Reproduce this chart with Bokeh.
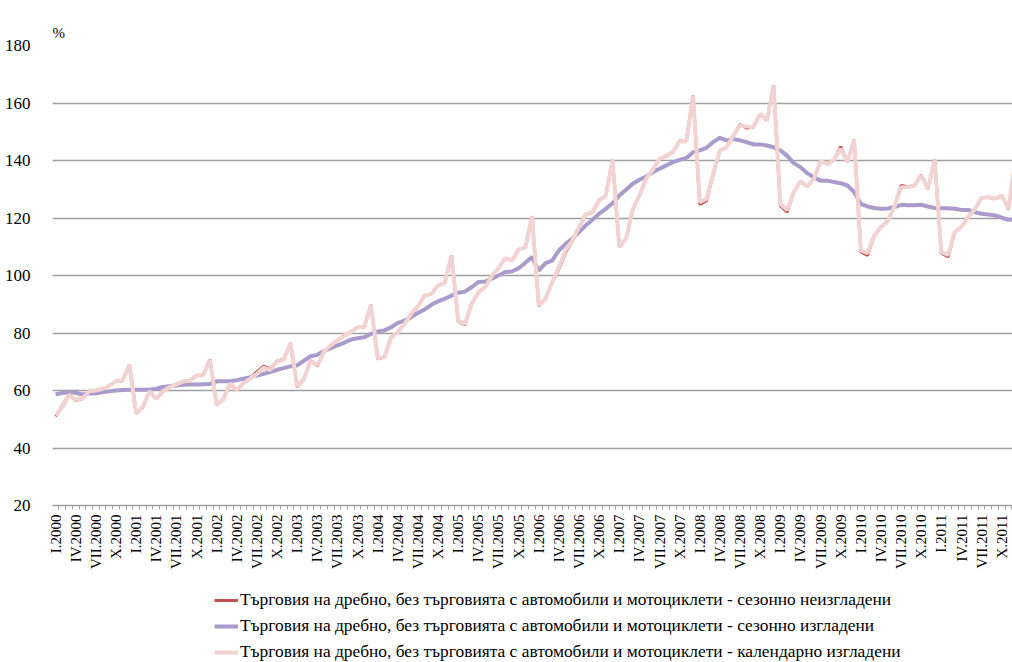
from bokeh.plotting import figure
from bokeh.layouts import column
from bokeh.models import Range1d, FixedTicker, Legend, LegendItem, ColumnDataSource
from bokeh.embed import file_html
from bokeh.resources import INLINE
import math

years = list(range(2000, 2012))
roman_quarters = ["I", "IV", "VII", "X"]

# Calendar adjusted (pink)
calendar_adj = [
    51.3, 54.2, 58.5, 56.8, 57.3, 59.7, 60.0, 60.6, 61.7, 63.2, 63.5, 69.0,
    52.1, 54.2, 59.7, 57.1, 59.7, 61.2, 62.1, 63.1, 63.5, 65.2, 65.4, 70.7,
    55.0, 57.0, 62.5, 60.2, 62.5, 64.1, 65.8, 67.9, 67.2, 70.1, 70.7, 76.5,
    61.4, 64.1, 70.4, 68.7, 73.6, 75.7, 77.4, 79.1, 80.3, 82.0, 82.0, 89.8,
    71.2, 71.6, 78.5, 80.3, 83.2, 86.7, 89.3, 93.0, 93.6, 96.5, 97.5, 107.0,
    84.3, 83.2, 90.2, 94.2, 95.9, 99.8, 102.6, 106.0, 105.2, 109.0, 109.8, 120.6,
    89.6, 91.9, 97.7, 102.9, 108.7, 112.2, 116.8, 121.2, 122.0, 126.1, 127.8, 140.2,
    110.1, 112.8, 122.8, 127.8, 133.6, 136.8, 140.6, 141.4, 142.9, 146.6, 146.7, 162.6,
    125.5, 126.7, 135.4, 143.5, 144.6, 148.7, 152.2, 151.8, 151.6, 156.2, 153.9, 166.1,
    124.9, 122.8, 129.0, 132.8, 131.0, 133.6, 139.8, 138.8, 140.2, 144.1, 139.4, 147.2,
    108.7, 107.8, 113.9, 116.8, 118.9, 124.0, 130.7, 130.7, 131.3, 134.8, 130.1, 140.2,
    108.1, 107.2, 115.1, 117.0, 120.3, 123.2, 127.0, 127.2, 126.7, 127.8, 123.2, 140.0,
]

# Not seasonally adjusted (red)
not_adj = [
    51.0, 54.6, 58.7, 56.6, 57.1, 59.7, 60.0, 60.6, 61.6, 63.3, 63.4, 69.1,
    52.0, 54.3, 59.7, 57.0, 59.7, 61.2, 62.1, 63.1, 63.5, 65.2, 65.4, 70.8,
    55.0, 57.0, 62.4, 60.2, 62.6, 64.3, 66.5, 68.5, 67.5, 70.3, 70.8, 76.5,
    61.2, 64.0, 70.4, 68.5, 73.6, 75.7, 77.4, 79.1, 80.3, 82.0, 82.1, 89.8,
    71.0, 71.6, 78.5, 80.3, 83.2, 86.7, 89.3, 93.0, 93.6, 96.5, 97.5, 107.0,
    84.0, 82.9, 90.2, 94.2, 95.9, 99.8, 102.6, 106.0, 105.2, 109.0, 109.8, 120.6,
    89.4, 91.9, 97.5, 102.3, 108.0, 112.0, 116.8, 121.2, 122.0, 126.1, 127.8, 140.2,
    110.0, 112.6, 122.8, 127.8, 133.6, 136.8, 140.6, 141.6, 142.9, 146.8, 146.7, 162.6,
    124.7, 126.0, 135.2, 143.5, 144.6, 148.7, 152.5, 151.3, 151.6, 156.2, 153.9, 166.1,
    124.3, 122.0, 129.0, 132.8, 131.0, 133.6, 139.8, 138.8, 140.2, 144.8, 139.4, 147.2,
    108.2, 107.0, 113.9, 116.8, 118.9, 124.0, 131.3, 130.9, 131.3, 135.0, 130.1, 140.2,
    107.8, 106.5, 115.1, 117.0, 120.3, 123.2, 127.0, 127.2, 126.7, 127.8, 123.0, 140.0,
]

# Seasonally adjusted (purple)
seasonal_adj = [
    58.7, 59.1, 59.4, 59.2, 58.6, 59.0, 59.0, 59.4, 59.7, 60.0, 60.2, 60.3,
    60.3, 60.3, 60.3, 60.6, 61.2, 61.5, 61.7, 62.0, 62.1, 62.1, 62.2, 62.3,
    63.2, 63.2, 63.2, 63.6, 64.1, 64.6, 65.2, 65.8, 66.4, 67.2, 67.8, 68.4,
    68.7, 70.4, 71.9, 72.4, 73.7, 74.7, 75.7, 76.6, 77.7, 78.2, 78.5, 79.7,
    80.5, 80.9, 82.0, 83.5, 84.3, 85.5, 87.0, 88.2, 89.8, 91.0, 91.9, 93.0,
    94.0, 94.4, 95.9, 97.7, 97.9, 98.9, 100.0, 101.2, 101.4, 102.5, 104.4, 106.4,
    101.7, 104.3, 105.2, 108.7, 111.0, 112.8, 115.1, 117.4, 119.4, 121.5, 123.2, 125.1,
    127.8, 129.8, 131.9, 133.3, 134.4, 135.9, 137.1, 138.3, 139.4, 140.2, 140.9, 142.9,
    143.5, 144.4, 146.4, 147.9, 147.0, 147.5, 147.0, 146.4, 145.6, 145.6, 145.2, 144.6,
    143.5, 141.7, 139.1, 137.7, 135.6, 134.2, 133.0, 133.0, 132.5, 132.1, 131.3, 129.0,
    124.9, 124.0, 123.5, 123.2, 123.3, 123.8, 124.6, 124.4, 124.4, 124.6, 124.0, 123.5,
    123.4, 123.4, 123.2, 122.8, 122.8, 122.0, 121.5, 121.2, 120.9, 120.1, 119.4, 119.6,
]

series_names = [
    "Търговия на дребно, без търговията с автомобили и мотоциклети - сезонно неизгладени",
    "Търговия на дребно, без търговията с автомобили и мотоциклети - сезонно изгладени",
    "Търговия на дребно, без търговията с автомобили и мотоциклети - календарно изгладени",
]
series_colors = ["#C0504D", "#A99BCB", "#F2D3D2"]
series_widths = [3, 4, 4]

n = len(calendar_adj)
idx = list(range(n))
tick_pos = list(range(0, n, 3))
tick_labels = {}
for t in tick_pos:
    y = years[t // 12]
    q = roman_quarters[(t % 12) // 3]
    tick_labels[t] = f"{q}.{y}"

FONT = "Liberation Serif"

p = figure(width=1012, height=588, output_backend="svg", toolbar_location=None,
           x_range=Range1d(-0.46, 142.6), y_range=Range1d(20, 180),
           min_border_left=52, min_border_right=0, min_border_top=45,
           min_border_bottom=83, title="%")
p.outline_line_color = None
p.background_fill_color = "white"
p.border_fill_color = "white"

p.title.text_font = FONT
p.title.text_font_size = "15px"
p.title.text_font_style = "normal"
p.title.align = "left"
p.title.offset = 0
p.title.standoff = 10
p.title.text_color = "black"

src = ColumnDataSource(dict(x=idx, nadj=not_adj, sadj=seasonal_adj, cadj=calendar_adj))

p.line("x", "nadj", source=src, line_color=series_colors[0], line_width=series_widths[0])
p.line("x", "sadj", source=src, line_color=series_colors[1], line_width=series_widths[1])
p.line("x", "cadj", source=src, line_color=series_colors[2], line_width=series_widths[2])

# y axis
p.yaxis.ticker = FixedTicker(ticks=[20, 40, 60, 80, 100, 120, 140, 160, 180])
p.yaxis.axis_line_color = None
p.yaxis.major_tick_line_color = None
p.yaxis.minor_tick_line_color = None
p.yaxis.major_label_text_font = FONT
p.yaxis.major_label_text_font_size = "17px"
p.yaxis.major_label_text_color = "black"
p.yaxis.major_label_standoff = 16

p.ygrid.grid_line_color = "#A0A0A0"
p.ygrid.grid_line_width = 1.3
p.xgrid.grid_line_color = None

# x axis
p.xaxis.ticker = FixedTicker(ticks=tick_pos, minor_ticks=[i - 0.5 for i in range(n + 1)])
p.xaxis.major_label_overrides = tick_labels
p.xaxis.major_label_orientation = math.pi / 2
p.xaxis.major_label_text_font = FONT
p.xaxis.major_label_text_font_size = "15px"
p.xaxis.major_label_text_color = "black"
p.xaxis.major_label_standoff = 5
p.xaxis.major_tick_line_color = None
p.xaxis.major_tick_out = 4
p.xaxis.minor_tick_line_color = "#A0A0A0"
p.xaxis.minor_tick_out = 4
p.xaxis.minor_tick_in = 0
p.xaxis.axis_line_color = "#A0A0A0"
p.xaxis.axis_line_width = 1.3

# Legend figure below the chart (its lines lie outside its visible range)
lg = figure(width=1012, height=74, output_backend="svg", toolbar_location=None,
            x_axis_location=None, y_axis_location=None,
            x_range=Range1d(0, 1), y_range=Range1d(0, 1),
            min_border_left=0, min_border_right=0, min_border_top=0, min_border_bottom=0)
lg.outline_line_color = None
lg.xgrid.grid_line_color = None
lg.ygrid.grid_line_color = None
items = []
for name, col, w in zip(series_names, series_colors, series_widths):
    r = lg.line(x=[5, 6], y=[5, 5], line_color=col, line_width=w)
    items.append(LegendItem(label=name, renderers=[r]))

legend = Legend(items=items, location=(162, 0), orientation="vertical")
legend.label_text_font = FONT
legend.label_text_font_size = "17.4px"
legend.label_text_color = "black"
legend.glyph_width = 24
legend.glyph_height = 20
legend.label_height = 20
legend.spacing = 5
legend.padding = 0
legend.margin = 0
legend.label_standoff = 2
legend.border_line_color = None
legend.background_fill_alpha = 0
lg.add_layout(legend, "center")

layout = column(p, lg, spacing=0)
open("out.html", "w").write(file_html(layout, INLINE))
